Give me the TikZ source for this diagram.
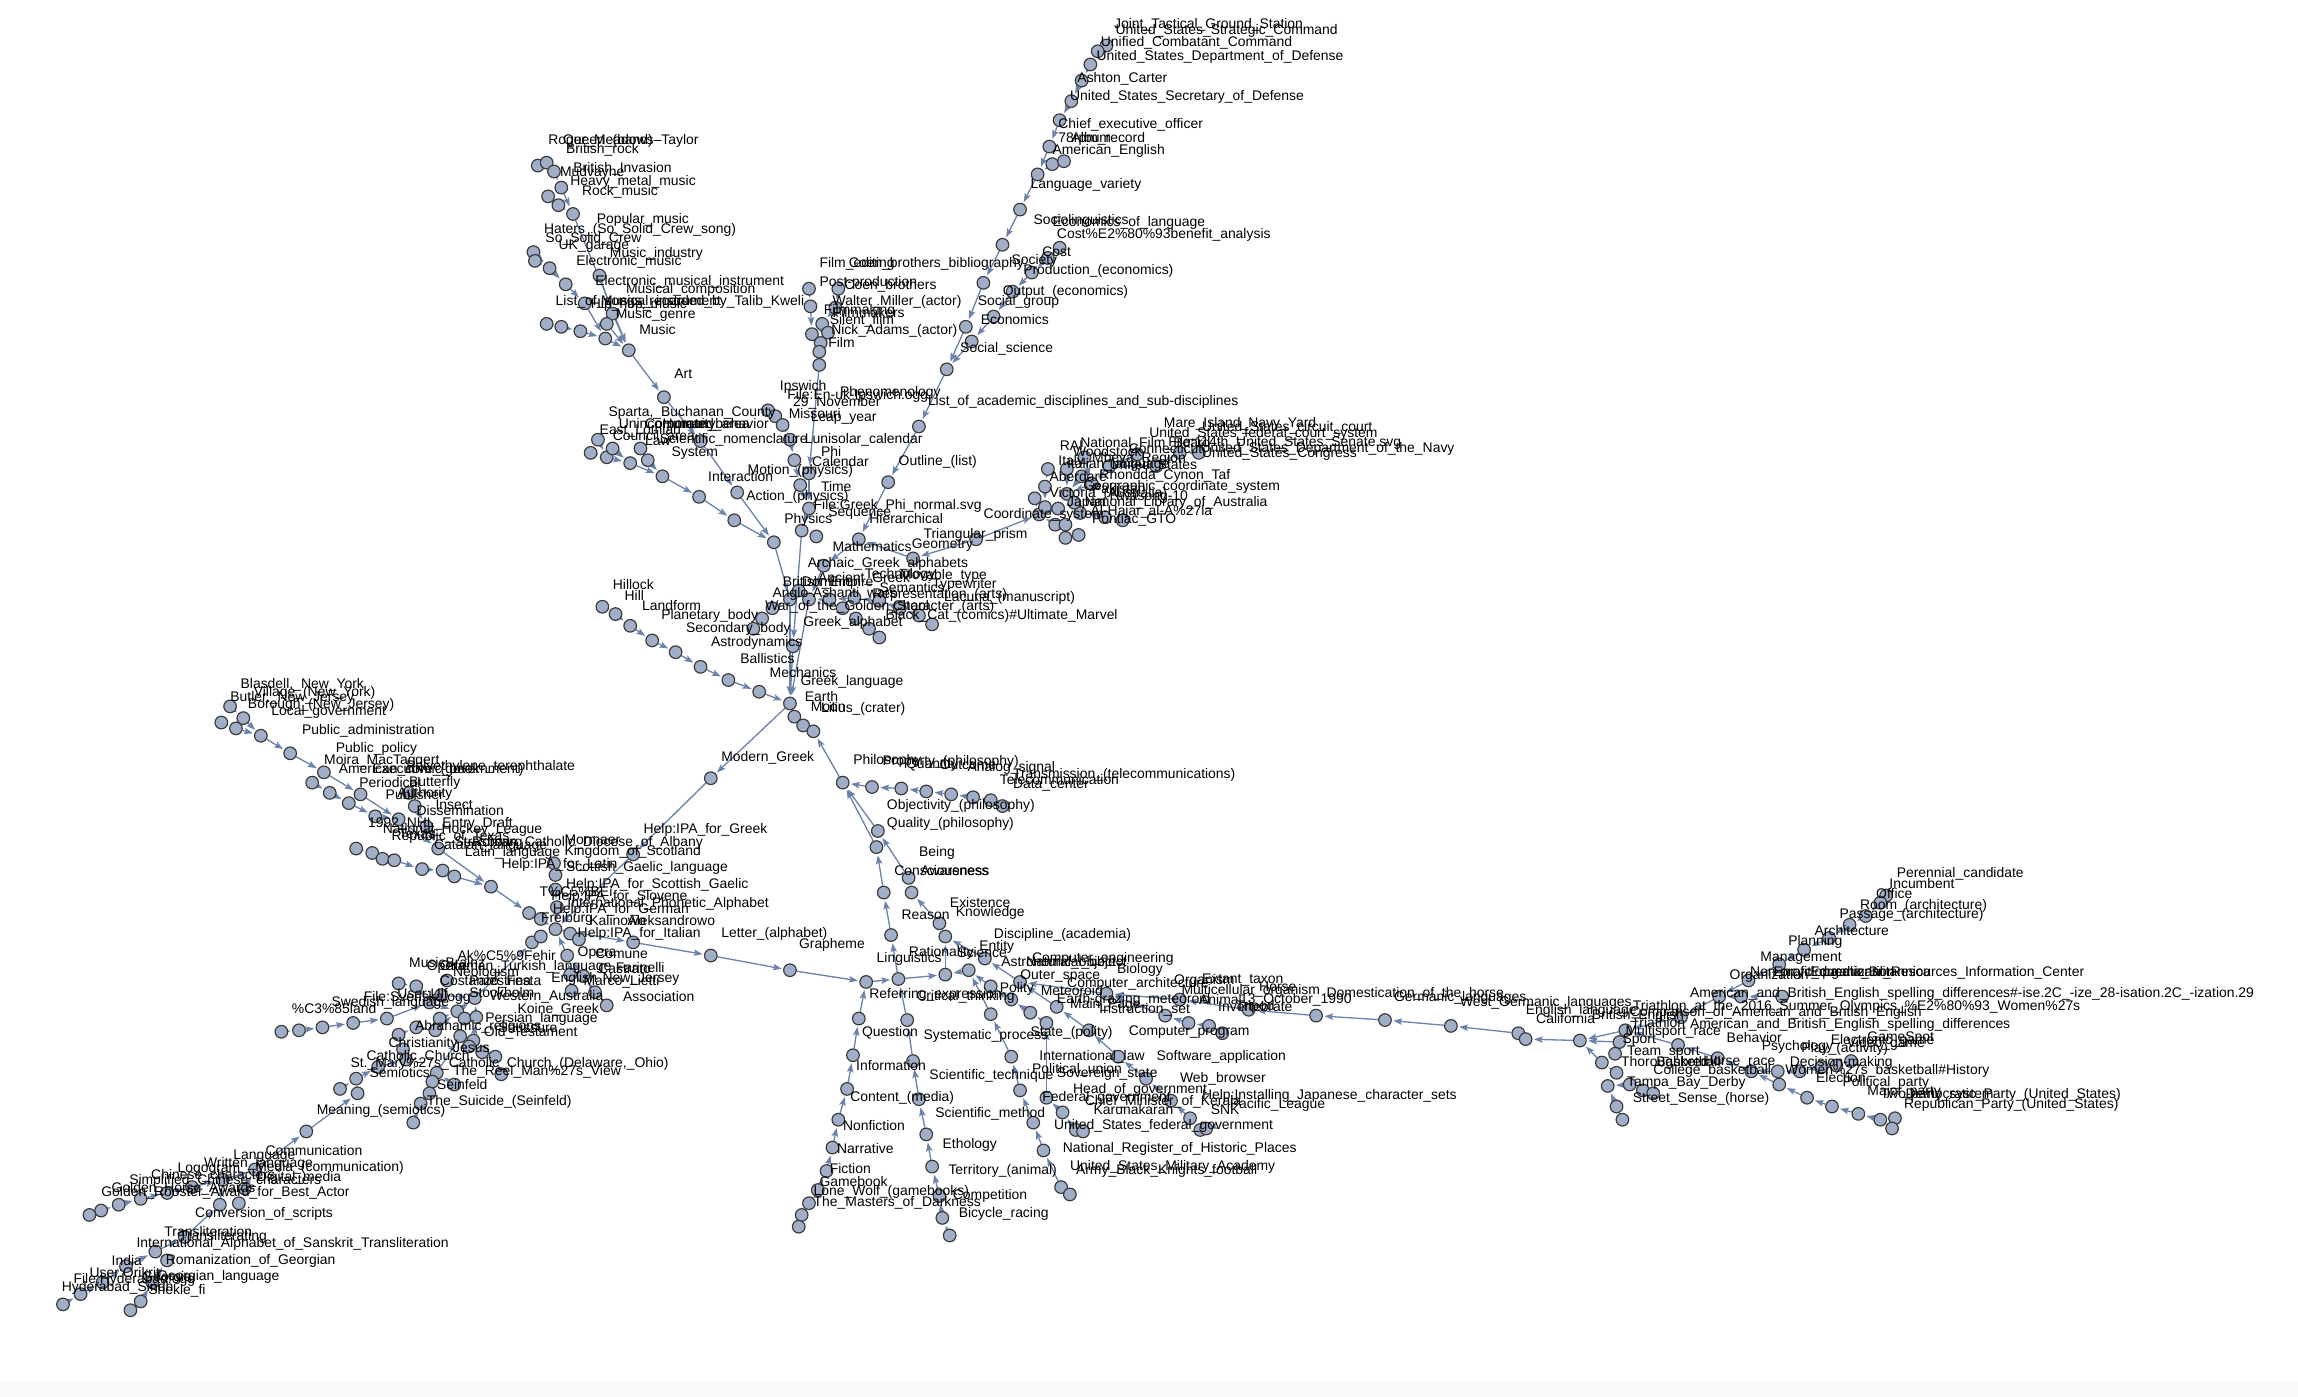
\documentclass[tikz,border=0pt]{standalone}
\usepackage{fontspec}
\setmainfont{Liberation Sans}
\usepackage{tikz}
\usetikzlibrary{arrows.meta}
\definecolor{vtxfill}{HTML}{A0AEC7}
\definecolor{vtxline}{HTML}{3A3A3A}
\definecolor{edgeblue}{HTML}{6B83AB}
\pgfdeclarelayer{background}
\pgfsetlayers{background,main}
\tikzset{
  vtx/.style={circle, draw=vtxline, fill=vtxfill, line width=0.8pt, minimum size=8.6pt, inner sep=0pt},
  lbl/.style={anchor=west, inner sep=0pt, font=\fontsize{9.5}{10}\selectfont},
  link/.style={draw=edgeblue, line width=0.9pt, -{Stealth[length=6pt,width=4.4pt,inset=1.2pt]}, shorten >=1pt}
}
\begin{document}
\begin{tikzpicture}[x=1pt,y=-1pt]
\useasboundingbox (0,0) rectangle (1568,953);
\foreach \n/\x/\y in {
  t1/755/31, t2/749/35, t3/744/44, t4/738/55, t5/731/69, t6/723/82, t7/716/100, t8/718/112, t9/726/110,
  t10/708/119, t11/696/143, t12/684/167, t13/671/193, t14/659/223, t15/646/252,
  e1/723/169, e2/715/176, e3/704/186, e4/691/199, e5/678/216, e6/663/233,
  a1/627/291, a2/606/329, a3/586/368, geo/623/381, tri/666/368,
  f1/552/197, f2/572/197, f3/553/209, f4/570/210, f5/561/221, f6/565/227, f7/554/228, f8/560/234, f9/559/240, f10/559/249,
  c1/524/280, c2/529/284, c3/534/290, c4/539/300, c5/542/314, c6/546/331, c7/552/323, c8/552/347, c9/547/362, c10/557/366,
  m1/367/113, m2/373/111, m3/378/117, m4/383/128, m5/374/134, m6/381/140, m7/391/146, m8/364/172, m9/365/178,
  m10/375/183, m11/386/194, m12/409/188, m13/399/207, m14/418/214, m15/414/221, m16/373/221, m17/383/223,
  m18/396/226, m19/413/231, m20/429/239, art/453/271,
  s1/408/300, s2/403/309, s3/414/312, s4/418/306, s5/430/316, s6/437/306, s7/442/314, s8/452/325, s9/477/339,
  s10/501/355, sys/478/301, inter/503/336, mg/528/370,
  h1/411/414, h2/420/419, h3/430/427, h4/445/437, h5/461/445, h6/478/455, h7/497/464, h8/518/472, hub/539/480,
  p1/541/441, q1/527/415, q2/520/422, q3/514/429, g0/539/409, g1/552/409, g2/545/403, g3/566/409, g4/562/386,
  g5/583/408, g6/600/410, g7/614/415, g8/627/420, g9/636/426, g10/575/415, g11/584/422, g12/593/429, g13/600/435,
  lil1/542/489, lil2/548/495, lil3/555/499,
  r1/715/320, r2/728/320, r3/738/325, r4/789/318, r5/776/310, r6/805/309, r7/818/309, r8/706/340, r9/709/351,
  r10/720/358, r11/727/358, r12/727/367, r13/736/365, r14/737/350, r15/754/353, r16/766/355, r17/722/347,
  r18/713/332, r19/728/337, r20/713/346, r21/745/330, r22/757/318, r23/740/312, r24/733/343,
  ph/575/534, ph1/595/537, ph2/615/538, ph3/632/540, ph4/649/542, ph5/664/544, ph6/676/546, ph7/684/550,
  qa/599/567, qb/598/578, b1/620/599, b2/622/609, b3/603/609, k1/641/630, k2/645/639, lg/608/638,
  mgk/485/531, ipag/432/583,
  lt1/432/643, lt2/485/652, lt3/539/662, re/591/670, li/613/668, ra/645/665, sc/661/662, en/672/654, ct/676/673,
  cr/690/682, os/696/670, ms/703/691, mp/714/698, eg/721/687, ins/743/703, cp/755/678,
  fi1/586/695, fi2/582/720, fi3/578/743, fi4/572/764, fi5/568/783, fi6/564/799, fi7/558/812, fi8/552/821, fi9/547/829, fi10/545/837,
  bc1/619/696, bc2/623/724, bc3/627/750, bc4/632/774, bc5/636/796, bc6/641/816, bc7/643/831, bc8/648/843,
  ar1/676/692, ar2/690/721, ar3/696/744, ar4/705/766, ar5/712/785, ar6/724/810, ar7/730/815,
  gv1/714/749, gv2/725/759, gv3/734/771, gv4/739/772,
  sn1/763/721, sn2/782/736, sn3/799/751, sn4/812/763, sn5/819/771, sn6/823/770,
  sw1/795/693, sw2/811/698, sw3/825/700, sw4/834/705,
  hr1/805/682, hr2/852/689, hr3/898/693, hr4/945/696, hr5/990/700, hr6/1036/705, hr7/1041/709, hr8/1078/710,
  or1/1287/611, or2/1283/616, or3/1273/625, or4/1262/631, or5/1248/640, or6/1231/648, or7/1214/658, or8/1193/669,
  or9/1173/680, or10/1147/694, or11/1188/680, or12/1216/680, or13/1109/703,
  spa/1105/711, spb/1102/719, spc/1093/725, spd/1103/732, spe/1097/741, spf/1112/740, spg/1121/744, sph/1128/746,
  spi/1103/755, spj/1107/764,
  po1/1145/713, po2/1172/722, po3/1195/731, po4/1213/731, po5/1228/731, po6/1243/728, po7/1253/727, po8/1263/724,
  po9/1214/740, po10/1233/749, po11/1250/755, po12/1268/760, po13/1283/764, po14/1293/763, po15/1291/770,
  l1/157/482, l2/151/493, l3/166/490, l4/161/497, l5/178/502, l6/198/514, l7/221/527, l8/213/534, l9/225/541,
  l10/238/548, l11/246/542, l12/256/557, l13/272/559, l14/279/541, l15/283/550, l16/291/564, l17/299/579,
  l18/243/579, l19/254/582, l20/261/586, l21/269/587, l22/288/593, l23/302/594, l24/310/598, l25/335/605,
  l26/361/623, l27/369/627, lh/379/634,
  mo1/378/589, mo2/379/597, mo3/379/607, mo4/380/619, x1/389/637, x2/395/641,
  op1/387/652, op2/389/665, op3/398/666, op4/390/676, op5/406/677, op6/414/686, cl1/363/643, cl2/369/639,
  k01/192/704, k02/204/703, k03/220/701, k04/241/698, k05/264/695, k06/272/671, k07/284/673, k08/293/684,
  k09/301/679, k10/300/695, k11/305/669, k12/312/690, k13/317/695, k14/324/681, k15/325/694, k16/284/701,
  k17/297/703, k18/272/706, k19/314/707, k20/323/710, k21/275/716, k22/277/723, k23/258/728, k24/243/736,
  k25/232/743, k26/244/746, k27/298/732, k28/295/738, k29/293/746, k30/310/740, k31/287/753, k32/282/766,
  k33/338/721, k34/342/733, k35/329/718, k36/320/714, k37/209/772,
  b01/174/798, b02/152/805, b03/167/811, b04/131/810, b05/114/814, b06/96/818, b07/81/822, b08/69/826,
  b09/61/829, b10/150/822, b11/163/821, b12/126/844, b13/106/854, b14/114/860, b15/86/864, b16/70/875,
  b17/104/875, b18/55/883, b19/43/890, b20/96/888, b21/89/894}
  \node[vtx] (\n) at (\x,\y) {};
\foreach \x/\y/\txt [count=\i] in {
  760/17/Joint\_Tactical\_Ground\_Station, 761/21/United\_States\_Strategic\_Command,
  751/29/Unified\_Combatant\_Command, 748/39/United\_States\_Department\_of\_Defense,
  735/54/Ashton\_Carter, 730/66/United\_States\_Secretary\_of\_Defense, 722/85/Chief\_executive\_officer,
  722/95/78rpm\_record, 731/94/Album, 718/103/American\_English, 703/126/Language\_variety,
  705/151/Sociolinguistics, 718/152/Economics\_of\_language, 721/160/Cost\%E2\%80\%93benefit\_analysis,
  711/172/Cost, 690/178/Society, 698/185/Production\_(economics), 684/199/Output\_(economics),
  667/206/Social\_group, 669/218/Economics, 655/238/Social\_science,
  633/274/List\_of\_academic\_disciplines\_and\_sub-disciplines, 613/315/Outline\_(list),
  568/373/Mathematics, 622/372/Geometry, 630/365/Triangular\_prism, 671/351/Coordinate\_system,
  559/180/Film\_editing, 579/180/Coen\_brothers\_bibliography, 559/193/Post-production, 576/195/Coen\_brothers,
  568/206/Walter\_Miller\_(actor), 562/212/Filmmaking, 568/213/Filmmakers, 566/219/Silent\_film,
  567/226/Nick\_Adams\_(actor), 565/234/Film,
  532/264/Ipswich, 537/270/File:En-uk-Ipswich.ogg, 573/268/Phenomenology, 541/275/29\_November,
  538/282/Missouri, 553/285/Leap\_year, 549/300/Lunisolar\_calendar, 560/308/Phi, 554/315/Calendar,
  510/321/Motion\_(physics), 560/332/Time, 509/339/Action\_(physics), 555/345/File:Greek\_Phi\_normal.svg,
  565/350/Sequence, 593/354/Hierarchical, 535/355/Physics,
  374/96/Roger\_Meadows–Taylor, 384/96/Queen\_(band), 386/102/British\_rock, 391/115/British\_Invasion,
  382/118/Mudvayne, 389/124/Heavy\_metal\_music, 397/131/Rock\_music, 407/150/Popular\_music,
  371/157/Haters\_(So\_Solid\_Crew\_song), 372/163/So\_Solid\_Crew, 381/168/UK\_garage, 416/173/Music\_industry,
  393/179/Electronic\_music, 406/192/Electronic\_musical\_instrument, 427/198/Musical\_composition,
  379/206/List\_of\_songs\_recorded\_by\_Talib\_Kweli, 403/208/Hip\_hop\_music, 410/206/Musical\_instrument,
  420/215/Music\_genre, 436/225/Music, 460/255/Art,
  415/282/{Sparta,\_Buchanan\_County}, 422/290/Unincorporated\_area, 440/290/Community, 452/290/Human\_behavior,
  409/294/East\_Lothian, 418/298/Council\_area, 440/301/Law, 450/300/Scientific\_nomenclature, 458/309/System,
  483/325/Interaction,
  418/399/Hillock, 426/406/Hill, 438/413/Landform, 451/420/Planetary\_body, 468/429/Secondary\_body,
  485/439/Astrodynamics, 505/449/Ballistics, 525/459/Mechanics, 546/465/Greek\_language, 549/475/Earth,
  553/482/Moon, 560/484/Lilius\_(crater),
  551/385/Archaic\_Greek\_alphabets, 590/392/Technology, 558/395/Ancient\_Greek, 614/393/Movable\_type,
  534/398/British\_Empire, 547/397/Dominion, 600/401/Semantics, 527/405/Anglo-Ashanti\_wars,
  595/406/Representation\_(arts), 644/408/Lacuna\_(manuscript), 636/399/Typewriter,
  522/414/War\_of\_the\_Golden\_Stool, 609/414/Character\_(arts), 604/420/Black\_Cat\_(comics)\#Ultimate\_Marvel,
  548/425/Greek\_alphabet,
  794/289/Mare\_Island\_Navy\_Yard, 820/292/United\_States\_circuit\_court, 784/296/United\_States\_federal\_court\_system,
  797/302/File:114th\_United\_States\_Senate.svg, 723/304/RAI, 737/303/National\_Film\_Board, 732/308/Woodstock,
  770/306/Connecticut, 819/306/United\_States\_Department\_of\_the\_Navy, 820/310/United\_States\_Congress,
  745/313/Mbeya\_Region, 722/315/Italy, 728/317/Italian\_language, 757/318/United\_States, 716/325/Aberdare,
  750/325/Rhondda\_Cynon\_Taf, 739/332/Geographic\_coordinate\_system, 716/337/Victoria\_(Australia),
  745/333/Pakistan, 757/339/Hwasong-10, 728/343/Japan, 740/343/National\_Library\_of\_Australia,
  744/349/Al-Hajar\_al-A\%27la, 745/355/Pontiac\_GTO,
  582/519/Philosophy, 602/520/Property\_(philosophy), 618/522/Quantity, 641/522/Outcome, 660/524/Analog\_signal,
  691/529/Transmission\_(telecommunications), 682/532/Telecommunication, 691/536/Data\_center,
  605/550/Objectivity\_(philosophy), 605/562/Quality\_(philosophy), 627/582/Being, 610/594/Consciousness,
  628/594/Awareness, 648/616/Existence, 615/624/Reason, 652/623/Knowledge, 678/638/Discipline\_(academia),
  492/517/Modern\_Greek, 439/566/Help:IPA\_for\_Greek,
  492/637/Letter\_(alphabet), 545/645/Grapheme, 598/654/Linguistics, 620/650/Rationality, 653/650/Science,
  668/646/Entity, 683/657/Astronomical\_object, 700/657/Natural\_object, 704/654/Computer\_engineering,
  762/662/Biology, 696/666/Outer\_space, 728/671/Computer\_architecture, 801/669/Organism, 820/669/Extant\_taxon,
  806/676/Multicellular\_organism, 859/673/Horse, 593/679/Referring\_expression, 625/680/Critical\_thinking,
  682/675/Polity, 710/676/Meteoroid, 721/682/Earth-grazing\_meteoroid, 818/682/Animal, 846/682/13\_October\_1990,
  730/686/Main\_Page, 750/689/Instruction\_set, 831/687/Invertebrate, 843/687/Tripod,
  905/678/Domestication\_of\_the\_horse, 951/681/Germanic\_languages, 996/684/West\_Germanic\_languages,
  588/705/Question, 630/707/Systematic\_process, 703/705/State\_(polity), 770/704/Computer\_program,
  584/727/Information, 709/721/International\_law, 789/721/Software\_application, 634/734/Scientific\_technique,
  704/730/Political\_union, 721/733/Sovereign\_state, 805/736/Web\_browser, 732/744/Head\_of\_government,
  580/749/Content\_(media), 711/749/Federal\_government, 740/752/Chief\_Minister\_of\_Kerala,
  820/748/Help:Installing\_Japanese\_character\_sets, 746/757/Karunakaran, 839/754/Pacific\_League, 826/757/SNK,
  638/760/Scientific\_method, 575/768/Nonfiction, 719/768/United\_States\_federal\_government, 643/781/Ethology,
  571/784/Narrative, 725/784/National\_Register\_of\_Historic\_Places, 566/797/Fiction, 647/799/Territory\_(animal),
  730/796/United\_States\_Military\_Academy, 734/799/Army\_Black\_Knights\_football, 559/806/Gamebook,
  555/813/Lone\_Wolf\_(gamebooks), 650/816/Competition, 555/821/The\_Masters\_of\_Darkness, 654/828/Bicycle\_racing,
  1294/596/Perennial\_candidate, 1289/603/Incumbent, 1280/610/Office, 1269/618/Room\_(architecture),
  1255/624/Passage\_(architecture), 1238/635/Architecture, 1220/643/Planning, 1201/654/Management,
  1180/666/Organization, 1194/664/Non-profit\_organization, 1210/664/Encyclopædia\_Britannica,
  1235/664/Educational\_Resources\_Information\_Center,
  1153/678/American\_and\_British\_English\_spelling\_differences\#-ise.2C\_-ize\_28-isation.2C\_-ization.29,
  1041/690/English\_language, 1114/687/Triathlon\_at\_the\_2016\_Summer\_Olympics\_\%E2\%80\%93\_Women\%27s,
  1112/691/Comparison\_of\_American\_and\_British\_English, 1048/695/California, 1086/693/British\_English,
  1113/698/Triathlon, 1153/699/American\_and\_British\_English\_spelling\_differences, 1109/704/Multisport\_race,
  1107/710/Sport, 1178/708/Behavior, 1202/714/Psychology, 1229/716/Play\_(activity), 1249/710/Electronic\_game,
  1260/712/Video\_game, 1274/708/GameSpot, 1110/718/Team\_sport, 1106/725/Thoroughbred, 1130/724/Basketball,
  1162/725/Horse\_race, 1221/725/Decision-making, 1128/731/College\_basketball,
  1218/731/Women\%27s\_basketball\#History, 1239/735/Election, 1110/739/Tampa\_Bay\_Derby,
  1257/739/Political\_party, 1274/745/Major\_party, 1283/747/Two-party\_system,
  1300/747/Democratic\_Party\_(United\_States), 1114/750/Street\_Sense\_(horse),
  1299/754/Republican\_Party\_(United\_States),
  164/467/{Blasdell,\_New\_York}, 173/473/Village\_(New\_York), 157/476/{Butler,\_New\_Jersey},
  169/481/Borough\_(New\_Jersey), 185/486/Local\_government, 206/499/Public\_administration, 229/511/Public\_policy,
  221/519/Moira\_MacTaggert, 231/525/American\_comic\_book, 254/525/Executive\_(government),
  277/523/Polyethylene\_terephthalate, 245/534/Periodical, 279/534/Butterfly, 263/542/Publisher,
  271/542/Authority, 297/549/Insect, 284/553/Dissemination, 251/562/1992\_NHL\_Entry\_Draft,
  261/566/National\_Hockey\_League, 267/571/Republic\_of\_Texas, 272/569/Texas, 296/577/Catalan\_language,
  310/575/Strasbourg, 322/575/Roman\_Catholic\_Diocese\_of\_Albany, 317/582/Latin\_language, 385/573/Mormaer,
  385/581/Kingdom\_of\_Scotland, 342/590/Help:IPA\_for\_Latin, 386/592/Scottish\_Gaelic\_language,
  386/604/Help:IPA\_for\_Scottish\_Gaelic, 368/608/T\%C5\%BEi, 376/612/Help:IPA\_for\_Slovene,
  387/617/International\_Phonetic\_Alphabet, 377/621/Help:IPA\_for\_German, 369/627/Freiburg, 402/628/Kalinowo,
  428/628/Aleksandrowo, 394/637/Help:IPA\_for\_Italian, 394/650/Opera, 406/651/Comune,
  312/652/Ak\%C5\%9Fehir, 279/657/MusicBrainz, 291/660/Opera, 300/660/Ottoman\_Turkish\_language,
  408/661/Castrato, 420/660/Farinelli, 309/664/Neologism, 300/670/Costanzo\_Festa, 320/669/Palestrina,
  398/670/Marco\_Lietti, 376/668/English, 411/668/New\_Jersey, 334/680/Western\_Australia, 320/677/Stockholm,
  425/680/Association, 248/681/File:Svenska.ogg, 271/678/User:Ulf, 226/684/Swedish\_language,
  199/688/\%C3\%85land, 331/695/Persian\_language, 353/689/Koine\_Greek, 283/701/Abrahamic\_religions,
  330/705/Old\_Testament, 340/701/Saussure, 265/712/Christianity, 309/715/Jesus, 250/721/Catholic\_Church,
  239/726/{St.\_Mary\%27s\_Catholic\_Church\_(Delaware,\_Ohio)}, 252/732/Semiotics,
  309/731/The\_Reel\_Man\%27s\_View, 298/740/Seinfeld, 291/752/The\_Suicide\_(Seinfeld),
  216/758/Meaning\_(semiotics),
  181/785/Communication, 159/789/Language, 139/794/Written\_language, 174/797/Media\_(communication),
  121/798/Logogram, 175/804/Digital\_media, 103/802/Chinese\_characters, 88/806/Simplified\_Chinese\_characters,
  76/811/Golden\_Horse\_Awards, 69/814/Golden\_Rooster\_Award\_for\_Best\_Actor, 133/828/Conversion\_of\_scripts,
  112/840/Transliteration, 122/844/Transliterating, 93/849/International\_Alphabet\_of\_Sanskrit\_Transliteration,
  113/860/Romanization\_of\_Georgian, 76/860/India, 61/868/User:Orikrit, 107/871/Georgian\_language,
  97/872/Georgia, 50/873/File:Hyderabad.ogg, 42/879/Hyderabad\_Sindh, 101/881/Shekle\_fi}
  \node[lbl] (lab\i) at (\x,\y) {\txt};
\begin{pgfonlayer}{background}
\fill[gray!4] (0,943) rectangle (1568,953);
\foreach \a/\b in {
  t1/t2, t2/t3, t3/t4, t4/t5, t5/t6, t6/t7, t7/t10, t9/t8, t8/t10, t10/t11, t11/t12, t12/t13, t13/t14, t14/t15,
  e1/e2, e2/e3, e3/e4, e4/e5, e5/e6, e6/t15, t15/a1, a1/a2, a2/a3, a3/g4, geo/a3, tri/geo, tri/r9,
  f1/f3, f3/f7, f7/f9, f2/f4, f4/f5, f5/f8, f6/f8, f8/f9, f9/f10, f10/c7, c7/c8,
  c1/c2, c2/c3, c3/c4, c4/c5, c5/c6, c6/c8, c8/c9, c10/c9, c9/p1, p1/hub,
  m1/m3, m2/m3, m3/m4, m4/m7, m5/m6, m6/m7, m7/m20, m8/m10, m9/m10, m10/m11, m11/m13, m13/m19, m12/m14,
  m14/m20, m15/m20, m16/m17, m17/m18, m18/m19, m19/m20, m20/art,
  art/sys, sys/inter, inter/mg, s1/s3, s2/s3, s3/s5, s4/s5, s6/s7, s5/s8, s7/s8, s8/s9, s9/s10, s10/mg,
  mg/g0, g0/hub,
  g9/g8, g8/g7, g7/g6, g6/g5, g5/g3, g3/g1, g1/hub, g13/g12, g12/g11, g11/g10, g10/g3, g2/g0, g4/g1,
  q3/q2, q2/q1, q1/g0,
  h1/h2, h2/h3, h3/h4, h4/h5, h5/h6, h6/h7, h7/h8, h8/hub,
  ph/lil3, lil3/lil2, lil2/lil1, lil1/hub, hub/mgk, mgk/ipag, ipag/lh,
  r1/r18, r2/r19, r3/r19, r23/r21, r21/r19, r22/r21, r5/r22, r4/r22, r6/r4, r7/r6, r18/r20, r19/r24,
  r24/r17, r20/r17, r17/r9, r8/r9, r14/r24, r15/r14, r16/r15, r10/r9, r11/r10, r12/r11, r13/r11,
  ph7/ph6, ph6/ph5, ph5/ph4, ph4/ph3, ph3/ph2, ph2/ph1, ph1/ph, qa/ph, qb/ph, b3/qb, b1/qa, b2/b1, k1/b2,
  k2/k1, lg/b3,
  lh/lt1, lt1/lt2, lt2/lt3, lt3/re, re/li, li/lg, li/ra, ra/k2, sc/ra, os/en, en/k2, ct/sc, cr/ct, ms/cr,
  mp/ms, eg/os, ins/eg, cp/os,
  fi10/fi9, fi9/fi8, fi8/fi7, fi7/fi6, fi6/fi5, fi5/fi4, fi4/fi3, fi3/fi2, fi2/fi1, fi1/re,
  bc8/bc7, bc7/bc6, bc6/bc5, bc5/bc4, bc4/bc3, bc3/bc2, bc2/bc1, bc1/li,
  ar7/ar6, ar6/ar5, ar5/ar4, ar4/ar3, ar3/ar2, ar2/ar1, ar1/sc,
  gv4/gv3, gv3/gv2, gv2/gv1, gv1/mp,
  sn6/sn5, sn5/sn4, sn4/sn3, sn3/sn2, sn2/sn1, sn1/ins,
  sw4/sw3, sw3/sw2, sw2/sw1, sw1/cp,
  hr8/hr7, hr7/hr6, hr6/hr5, hr5/hr4, hr4/hr3, hr3/hr2, hr2/hr1, hr1/cp,
  or1/or2, or2/or3, or3/or4, or4/or5, or5/or6, or6/or7, or7/or8, or8/or9, or9/or10, or10/or13, or13/hr8,
  or12/or11, or11/or9,
  spa/hr8, spb/spc, spc/hr8, spd/spc, spe/spd, spf/spe, spg/spf, sph/spg, spi/spe, spj/spi,
  po1/or13, po2/po1, po3/po2, po4/po3, po5/po4, po6/po5, po7/po6, po8/po7, po9/po3, po10/po9, po11/po10,
  po12/po11, po13/po12, po14/po13, po15/po13,
  l1/l3, l2/l4, l3/l5, l4/l5, l5/l6, l6/l7, l7/l11, l11/l13, l8/l9, l9/l10, l10/l12, l12/l13, l13/l17,
  l14/l15, l15/l16, l16/l17, l17/l25, l18/l19, l19/l20, l20/l21, l21/l22, l22/l23, l23/l24, l24/l25,
  l25/l26, l26/lh, l27/lh, mo1/mo2, mo2/mo3, mo3/mo4, mo4/lh, x2/x1, x1/lh, op2/op1, op4/op2, op3/op1,
  op5/op3, op6/op5, op1/lh, cl2/lh, cl1/cl2, k14/cl1,
  k01/k02, k02/k03, k03/k04, k04/k05, k05/k08, k06/k07, k07/k08, k08/k12, k11/k09, k09/k14, k10/k12,
  k12/k14, k13/k15, k15/k14, k16/k17, k17/k12, k18/k16, k21/k18, k22/k21, k23/k22, k24/k23, k25/k24,
  k26/k24, k37/k26, k19/k20, k20/k15, k27/k19, k28/k27, k29/k28, k31/k29, k32/k31, k30/k27, k33/k20,
  k34/k33, k35/k36, k36/k20,
  b09/b08, b08/b07, b07/b06, b06/b05, b05/b04, b04/b02, b02/b01, b01/k37, b03/b01, b11/b03, b10/b02,
  b12/b10, b13/b12, b15/b13, b16/b15, b18/b16, b19/b18, b14/b13, b17/b14, b20/b17, b21/b20}
  \draw[link] (\a) -- (\b);
\end{pgfonlayer}
\end{tikzpicture}
\end{document}
